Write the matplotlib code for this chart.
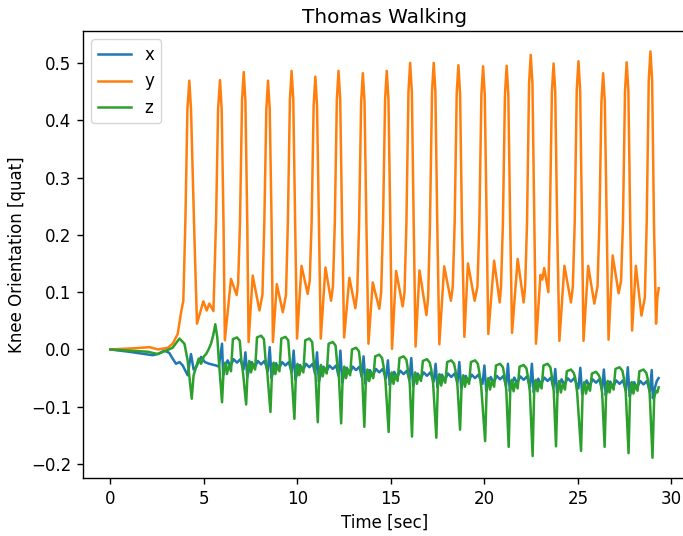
import matplotlib
matplotlib.use("Agg")
import matplotlib.pyplot as plt

# ---- data (time in sec, knee orientation quaternion parts) ----

# x component (blue)
x_time = [
    0, 1.0, 2.26, 2.53, 2.89, 3.15, 3.33, 3.51, 3.70, 3.87, 4.13, 4.31, 4.45, 4.58, 4.85, 5.05, 5.29, 5.65, 5.80, 5.97,
    6.03, 6.13, 6.27, 6.42, 6.59, 6.77, 6.95, 7.12, 7.22,
    7.32, 7.42, 7.56, 7.71, 7.88, 8.06, 8.24, 8.42, 8.52,
    8.62, 8.72, 8.86, 9.01, 9.18, 9.36, 9.54, 9.70, 9.80,
    9.90, 10.00, 10.14, 10.29, 10.46, 10.64, 10.82, 10.95, 11.05,
    11.15, 11.25, 11.39, 11.54, 11.71, 11.89, 12.07, 12.20, 12.30,
    12.40, 12.50, 12.64, 12.79, 12.96, 13.14, 13.32, 13.44, 13.54,
    13.64, 13.74, 13.88, 14.03, 14.20, 14.38, 14.56, 14.74, 14.84,
    14.94, 15.04, 15.18, 15.33, 15.50, 15.68, 15.86, 15.99, 16.09,
    16.19, 16.29, 16.43, 16.58, 16.75, 16.93, 17.11, 17.29, 17.39,
    17.49, 17.59, 17.73, 17.88, 18.05, 18.23, 18.41, 18.56, 18.66,
    18.76, 18.86, 19.00, 19.15, 19.32, 19.50, 19.68, 19.90, 20.00,
    20.10, 20.20, 20.34, 20.49, 20.66, 20.84, 21.02, 21.16, 21.26,
    21.36, 21.46, 21.60, 21.75, 21.92, 22.10, 22.28, 22.44, 22.54,
    22.64, 22.74, 22.88, 23.03, 23.20, 23.38, 23.56, 23.69, 23.79,
    23.89, 23.99, 24.13, 24.28, 24.45, 24.63, 24.81, 25.03, 25.13,
    25.23, 25.33, 25.47, 25.62, 25.79, 25.97, 26.15, 26.29, 26.39,
    26.49, 26.59, 26.73, 26.88, 27.05, 27.23, 27.41, 27.57, 27.67,
    27.77, 27.87, 28.01, 28.16, 28.33, 28.51, 28.69, 28.85, 28.95,
    29.01, 29.11, 29.22, 29.32,
]
x_vals = [
    0, -0.004, -0.010, -0.008, -0.002, -0.006, -0.016, -0.025, -0.022, -0.028, -0.045, -0.008, -0.035, -0.031, -0.013, -0.022, -0.025, -0.028, -0.030, 0.010,
    -0.045, -0.031, -0.019, -0.029, -0.017, -0.023, -0.017, -0.035, -0.005,
    -0.048, -0.034, -0.022, -0.032, -0.020, -0.026, -0.020, -0.038, 0.004,
    -0.050, -0.036, -0.024, -0.034, -0.022, -0.028, -0.022, -0.040, -0.002,
    -0.053, -0.039, -0.027, -0.037, -0.025, -0.031, -0.025, -0.043, -0.005,
    -0.056, -0.042, -0.030, -0.040, -0.028, -0.034, -0.028, -0.046, -0.002,
    -0.058, -0.044, -0.032, -0.042, -0.030, -0.036, -0.030, -0.048, -0.012,
    -0.060, -0.048, -0.036, -0.046, -0.034, -0.040, -0.034, -0.050, -0.019,
    -0.062, -0.050, -0.039, -0.049, -0.037, -0.043, -0.037, -0.053, -0.015,
    -0.064, -0.052, -0.042, -0.052, -0.040, -0.046, -0.040, -0.056, -0.025,
    -0.066, -0.054, -0.044, -0.054, -0.042, -0.048, -0.042, -0.058, -0.022,
    -0.068, -0.056, -0.046, -0.056, -0.044, -0.050, -0.044, -0.060, -0.028,
    -0.072, -0.060, -0.048, -0.058, -0.046, -0.052, -0.046, -0.064, -0.025,
    -0.073, -0.061, -0.049, -0.059, -0.047, -0.053, -0.047, -0.065, -0.025,
    -0.075, -0.063, -0.051, -0.061, -0.049, -0.055, -0.049, -0.067, -0.034,
    -0.076, -0.064, -0.052, -0.062, -0.050, -0.056, -0.050, -0.068, -0.032,
    -0.078, -0.066, -0.054, -0.064, -0.052, -0.058, -0.052, -0.070, -0.035,
    -0.080, -0.068, -0.056, -0.066, -0.054, -0.060, -0.054, -0.072, -0.031,
    -0.082, -0.069, -0.057, -0.067, -0.055, -0.061, -0.055, -0.073, -0.036,
    -0.085, -0.068, -0.055, -0.050,
]

# y component (orange)
y_time = [
    0, 1.2, 2.1, 2.55, 3.07, 3.33, 3.6, 3.78, 3.9, 4.01, 4.12, 4.22,
    4.31, 4.49, 4.63, 4.97, 5.15, 5.29, 5.51, 5.65, 5.76, 5.86,
    5.95, 6.05, 6.12, 6.45, 6.75, 6.83, 6.93, 7.04, 7.13,
    7.22, 7.32, 7.39, 7.61, 7.97, 8.13, 8.23, 8.34, 8.43,
    8.52, 8.62, 8.69, 8.90, 9.22, 9.39, 9.49, 9.60, 9.69,
    9.78, 9.88, 9.98, 10.22, 10.55, 10.66, 10.76, 10.87, 10.96,
    11.05, 11.15, 11.25, 11.50, 11.80, 11.90, 12.00, 12.11, 12.20,
    12.29, 12.39, 12.50, 12.78, 13.10, 13.20, 13.30, 13.41, 13.50,
    13.59, 13.69, 13.80, 14.03, 14.38, 14.48, 14.58, 14.69, 14.78,
    14.87, 14.97, 15.06, 15.28, 15.63, 15.73, 15.83, 15.94, 16.03,
    16.12, 16.22, 16.32, 16.53, 16.90, 16.99, 17.09, 17.20, 17.29,
    17.38, 17.48, 17.59, 17.85, 18.21, 18.31, 18.41, 18.52, 18.61,
    18.70, 18.80, 18.93, 19.12, 19.48, 19.63, 19.73, 19.84, 19.93,
    20.02, 20.12, 20.21, 20.52, 20.82, 20.89, 20.99, 21.10, 21.19,
    21.28, 21.38, 21.48, 21.78, 22.10, 22.18, 22.28, 22.39, 22.48,
    22.57, 22.67, 22.76, 23.00, 23.10, 23.20, 23.42, 23.50, 23.61, 23.70,
    23.79, 23.89, 24.01, 24.28, 24.63, 24.73, 24.83, 24.94, 25.03,
    25.12, 25.22, 25.30, 25.55, 25.88, 26.05, 26.15, 26.26, 26.35,
    26.44, 26.54, 26.64, 26.86, 27.18, 27.31, 27.41, 27.52, 27.61,
    27.70, 27.80, 27.90, 28.10, 28.40, 28.58, 28.68, 28.79, 28.88,
    28.97, 29.07, 29.18, 29.25, 29.32,
]
y_vals = [
    0, 0.002, 0.004, 0.0, 0.003, 0.010, 0.027, 0.065, 0.085, 0.225, 0.42, 0.469,
    0.42, 0.20, 0.045, 0.084, 0.068, 0.080, 0.067, 0.225, 0.42, 0.470,
    0.42, 0.22, 0.016, 0.123, 0.095, 0.115, 0.22, 0.434, 0.484,
    0.434, 0.22, 0.013, 0.129, 0.068, 0.095, 0.22, 0.419, 0.469,
    0.419, 0.22, 0.013, 0.114, 0.065, 0.095, 0.22, 0.436, 0.486,
    0.436, 0.22, 0.019, 0.146, 0.097, 0.12, 0.22, 0.426, 0.476,
    0.426, 0.22, 0.019, 0.143, 0.085, 0.11, 0.22, 0.436, 0.486,
    0.436, 0.22, 0.021, 0.125, 0.072, 0.10, 0.22, 0.432, 0.482,
    0.432, 0.22, 0.010, 0.117, 0.071, 0.10, 0.22, 0.436, 0.486,
    0.436, 0.22, 0.001, 0.137, 0.075, 0.10, 0.22, 0.45, 0.500,
    0.45, 0.22, 0.005, 0.138, 0.060, 0.09, 0.22, 0.45, 0.500,
    0.45, 0.22, 0.009, 0.145, 0.085, 0.11, 0.22, 0.446, 0.496,
    0.446, 0.22, 0.022, 0.150, 0.085, 0.11, 0.22, 0.444, 0.494,
    0.444, 0.22, 0.027, 0.155, 0.082, 0.11, 0.22, 0.445, 0.495,
    0.445, 0.22, 0.029, 0.158, 0.082, 0.11, 0.22, 0.464, 0.514,
    0.464, 0.22, 0.010, 0.130, 0.122, 0.142, 0.100, 0.22, 0.449, 0.499,
    0.449, 0.22, 0.015, 0.146, 0.082, 0.11, 0.22, 0.453, 0.503,
    0.453, 0.22, 0.015, 0.146, 0.080, 0.11, 0.22, 0.432, 0.482,
    0.432, 0.22, 0.017, 0.164, 0.098, 0.12, 0.22, 0.451, 0.501,
    0.451, 0.22, 0.033, 0.146, 0.059, 0.09, 0.22, 0.47, 0.520,
    0.47, 0.22, 0.045, 0.09, 0.107,
]

# z component (green)
z_time = [
    0, 1.0, 2.0, 2.53, 2.98, 3.33, 3.69, 3.96, 4.13, 4.35, 4.45, 4.58, 4.72, 4.85, 5.00, 5.12, 5.25, 5.38, 5.50, 5.61, 5.72, 5.80, 5.97,
    6.06, 6.14, 6.23, 6.33, 6.45, 6.55, 6.77, 6.92, 7.00, 7.10, 7.26,
    7.35, 7.43, 7.52, 7.62, 7.74, 7.84, 8.06, 8.21, 8.29, 8.39, 8.56,
    8.65, 8.73, 8.82, 8.92, 9.04, 9.14, 9.36, 9.51, 9.59, 9.69, 9.84,
    9.93, 10.01, 10.10, 10.20, 10.32, 10.42, 10.64, 10.79, 10.87, 10.97, 11.09,
    11.18, 11.26, 11.35, 11.45, 11.57, 11.67, 11.89, 12.04, 12.12, 12.22, 12.34,
    12.43, 12.51, 12.60, 12.70, 12.82, 12.92, 13.14, 13.29, 13.37, 13.47, 13.58,
    13.67, 13.75, 13.84, 13.94, 14.06, 14.16, 14.38, 14.53, 14.61, 14.71, 14.88,
    14.97, 15.05, 15.14, 15.24, 15.36, 15.46, 15.68, 15.83, 15.91, 16.01, 16.13,
    16.22, 16.30, 16.39, 16.49, 16.61, 16.71, 16.93, 17.08, 17.16, 17.26, 17.43,
    17.52, 17.60, 17.69, 17.79, 17.91, 18.01, 18.23, 18.38, 18.46, 18.56, 18.70,
    18.79, 18.87, 18.96, 19.06, 19.18, 19.28, 19.50, 19.65, 19.73, 19.83, 20.04,
    20.13, 20.21, 20.30, 20.40, 20.52, 20.62, 20.84, 20.99, 21.07, 21.17, 21.30,
    21.39, 21.47, 21.56, 21.66, 21.78, 21.88, 22.10, 22.25, 22.33, 22.43, 22.58,
    22.67, 22.75, 22.84, 22.94, 23.06, 23.16, 23.38, 23.53, 23.61, 23.71, 23.83,
    23.92, 24.00, 24.09, 24.19, 24.31, 24.41, 24.63, 24.78, 24.86, 24.96, 25.17,
    25.26, 25.34, 25.43, 25.53, 25.65, 25.75, 25.97, 26.12, 26.20, 26.30, 26.43,
    26.52, 26.60, 26.69, 26.79, 26.91, 27.01, 27.23, 27.38, 27.46, 27.56, 27.71,
    27.80, 27.88, 27.97, 28.07, 28.19, 28.29, 28.51, 28.66, 28.74, 28.84, 28.99,
    29.08, 29.17, 29.25, 29.32,
]
z_vals = [
    0, -0.002, -0.004, -0.008, -0.002, 0.003, 0.019, 0.010, -0.019, -0.086, -0.045, -0.031, -0.016, -0.025, -0.012, -0.008, 0.0, 0.010, 0.025, 0.044, 0.02, -0.02, -0.092,
    -0.033, -0.023, -0.043, -0.028, -0.038, 0.018, 0.021, 0.015, -0.018, -0.043, -0.096,
    -0.030, -0.020, -0.040, -0.025, -0.035, 0.021, 0.024, 0.018, -0.015, -0.040, -0.109,
    -0.033, -0.023, -0.043, -0.028, -0.038, 0.019, 0.022, 0.016, -0.018, -0.043, -0.121,
    -0.035, -0.025, -0.045, -0.030, -0.040, 0.016, 0.019, 0.013, -0.020, -0.045, -0.127,
    -0.037, -0.027, -0.047, -0.032, -0.042, 0.010, 0.013, 0.007, -0.022, -0.047, -0.129,
    -0.040, -0.030, -0.050, -0.035, -0.045, 0.0, 0.003, -0.003, -0.025, -0.050, -0.135,
    -0.045, -0.035, -0.055, -0.040, -0.050, -0.012, -0.009, -0.015, -0.030, -0.055, -0.144,
    -0.050, -0.040, -0.060, -0.045, -0.055, -0.015, -0.012, -0.018, -0.035, -0.060, -0.152,
    -0.050, -0.040, -0.060, -0.045, -0.055, -0.020, -0.017, -0.023, -0.035, -0.060, -0.154,
    -0.053, -0.043, -0.063, -0.048, -0.058, -0.022, -0.019, -0.025, -0.038, -0.063, -0.140,
    -0.055, -0.045, -0.065, -0.050, -0.060, -0.022, -0.019, -0.025, -0.040, -0.065, -0.160,
    -0.060, -0.050, -0.070, -0.055, -0.065, -0.028, -0.025, -0.031, -0.045, -0.070, -0.170,
    -0.063, -0.053, -0.073, -0.058, -0.068, -0.030, -0.027, -0.033, -0.048, -0.073, -0.186,
    -0.063, -0.053, -0.073, -0.058, -0.068, -0.028, -0.025, -0.031, -0.048, -0.073, -0.169,
    -0.065, -0.055, -0.075, -0.060, -0.070, -0.038, -0.035, -0.041, -0.050, -0.075, -0.177,
    -0.067, -0.057, -0.077, -0.062, -0.072, -0.042, -0.039, -0.045, -0.052, -0.077, -0.170,
    -0.065, -0.055, -0.075, -0.060, -0.070, -0.034, -0.031, -0.037, -0.050, -0.075, -0.181,
    -0.067, -0.057, -0.077, -0.062, -0.072, -0.038, -0.035, -0.041, -0.052, -0.077, -0.189,
    -0.085, -0.072, -0.075, -0.066,
]

labels = ["x", "y", "z"]

# ---- style: the reference looks like the default look scaled up by ~1.2 ----
plt.rcParams.update({
    "font.size": 12,
    "lines.linewidth": 1.8,
    "axes.linewidth": 1.0,
    "xtick.major.size": 4.2,
    "ytick.major.size": 4.2,
    "xtick.major.width": 1.0,
    "ytick.major.width": 1.0,
    "xtick.major.pad": 4.2,
    "ytick.major.pad": 4.2,
})

# ---- plot ----
fig = plt.figure(figsize=(6.83, 5.36), dpi=100)
# the reference is cropped a few pixels into the right spine
ax = fig.add_axes([0.1215, 0.108, 0.883, 0.834])

ax.plot(x_time, x_vals, color="tab:blue", label=labels[0])
ax.plot(y_time, y_vals, color="tab:orange", label=labels[1])
ax.plot(z_time, z_vals, color="tab:green", label=labels[2])

ax.set_title("Thomas Walking")
ax.set_xlabel("Time [sec]")
ax.set_ylabel("Knee Orientation [quat]")
ax.legend(loc="upper left")

fig.savefig("out.png", dpi=100)
